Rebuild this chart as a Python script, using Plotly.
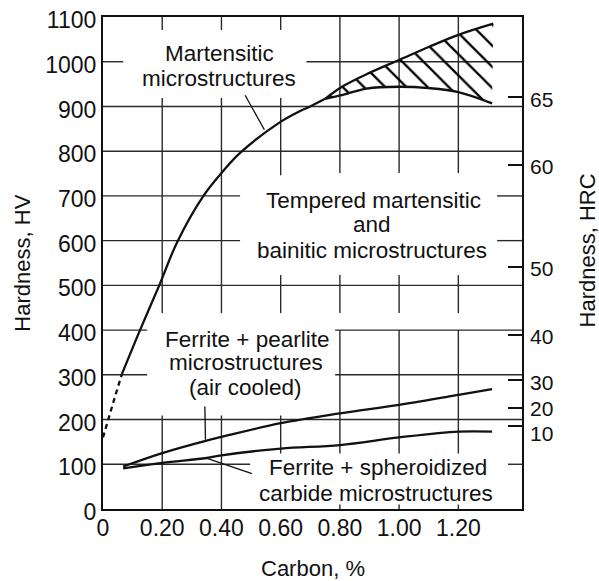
import plotly.graph_objects as go

# ---------------- data ----------------
CARBON_TICKS = [0.0, 0.2, 0.4, 0.6, 0.8, 1.0, 1.2]
CARBON_TICK_TEXT = ["0", "0.20", "0.40", "0.60", "0.80", "1.00", "1.20"]
HV_TICKS = [0, 100, 200, 300, 400, 500, 600, 700, 800, 900, 1000, 1100]
HRC_TICK_HV = [921, 768, 542, 390, 289, 226, 186]
HRC_LABEL_HV = [916, 766, 538, 386, 282, 224, 168]
HRC_TICK_TEXT = ["65", "60", "50", "40", "30", "20", "10"]

# Martensitic curve (dashed low-carbon part, then solid)
mart_dash_x = [0.0, 0.017, 0.04, 0.064]
mart_dash_hv = [160, 200, 250, 302]
mart_x = [0.064, 0.125, 0.19, 0.25, 0.338, 0.405, 0.463, 0.598, 0.666, 0.70, 0.75]
mart_hv = [302, 400, 500, 596, 699, 755, 796, 865, 890, 900, 917]
# Split band at high carbon (upper / lower limits)
upper_x = [0.75, 0.81, 0.9, 1.0, 1.1, 1.2, 1.318]
upper_hv = [917, 945, 975, 1004, 1033, 1060, 1085]
lower_x = [0.75, 0.81, 0.89, 1.0, 1.1, 1.2, 1.314]
lower_hv = [917, 926, 940, 944, 941, 932, 907]

# Ferrite + pearlite (air cooled)
pearl_x = [0.068, 0.2, 0.35, 0.4, 0.6, 0.8, 1.0, 1.2, 1.314]
pearl_hv = [95, 125, 153, 161, 192, 214, 233, 255, 268]
# Ferrite + spheroidized carbide
spher_x = [0.068, 0.2, 0.35, 0.4, 0.6, 0.8, 1.0, 1.2, 1.314]
spher_hv = [91, 103, 114, 120, 135, 143, 160, 173, 173]

# ---------------- layout decoration ----------------
X_MAX = 1.415
Y_MAX = 1100
FONT = "Liberation Sans, Arial, sans-serif"
INK = "#111111"

# partial grid lines: (hv, x0, x1) and (x, hv0, hv1)
GRID_H = [
    (1000, 0, 0.068), (1000, 0.687, X_MAX),
    (900, 0, X_MAX), (800, 0, X_MAX),
    (700, 0, 0.463), (700, 1.331, X_MAX),
    (600, 0, 0.463), (600, 1.331, X_MAX),
    (500, 0, X_MAX),
    (400, 0, 0.149), (400, 0.784, X_MAX),
    (300, 0, 0.149), (300, 0.784, X_MAX),
    (200, 0, X_MAX),
    (100, 0, 0.497), (100, 1.368, X_MAX),
]
GRID_V = [
    (0.2, 1071, 1100), (0.2, 438, 919), (0.2, 0, 209),
    (0.4, 1071, 1100), (0.4, 438, 919), (0.4, 0, 209),
    (0.6, 1071, 1100), (0.6, 746, 919), (0.6, 438, 523), (0.6, 124, 209),
    (0.8, 751, 1100), (0.8, 438, 523), (0.8, 124, 400), (0.8, 0, 10),
    (1.0, 751, 1100), (1.0, 438, 523), (1.0, 124, 400), (1.0, 0, 10),
    (1.2, 751, 1100), (1.2, 438, 523), (1.2, 124, 400), (1.2, 0, 10),
]

LABELS = [
    ("Martensitic", 0.392, 1018),
    ("microstructures", 0.393, 963),
    ("Tempered martensitic", 0.912, 690),
    ("and", 0.907, 635),
    ("bainitic microstructures", 0.910, 578),
    ("Ferrite + pearlite", 0.485, 380),
    ("microstructures", 0.483, 328),
    ("(air cooled)", 0.481, 272),
    ("Ferrite + spheroidized", 0.927, 93),
    ("carbide microstructures", 0.922, 35),
]
LEADERS = [
    ((0.48, 925), (0.545, 848)),
    ((0.344, 229), (0.346, 155)),
    ((0.344, 115), (0.503, 79)),
]

fig = go.Figure()

# grid
gx, gy = [], []
for hv, x0, x1 in GRID_H:
    gx += [x0, x1, None]
    gy += [hv, hv, None]
for xv, h0, h1 in GRID_V:
    gx += [xv, xv, None]
    gy += [h0, h1, None]
fig.add_trace(go.Scatter(x=gx, y=gy, mode="lines",
                         line=dict(color="#2a2a2a", width=1.4),
                         hoverinfo="skip", showlegend=False))

# leader lines
lx, ly = [], []
for (a, b) in LEADERS:
    lx += [a[0], b[0], None]
    ly += [a[1], b[1], None]
fig.add_trace(go.Scatter(x=lx, y=ly, mode="lines",
                         line=dict(color=INK, width=1.3),
                         hoverinfo="skip", showlegend=False))

curve = dict(color=INK, width=2.3, shape="spline", smoothing=1.0)

fig.add_trace(go.Scatter(x=mart_dash_x, y=mart_dash_hv, mode="lines",
                         line=dict(color=INK, width=2.3, dash="5px,4px"),
                         showlegend=False))
fig.add_trace(go.Scatter(x=mart_x, y=mart_hv, mode="lines", line=curve,
                         showlegend=False))
fig.add_trace(go.Scatter(x=lower_x, y=lower_hv, mode="lines", line=curve,
                         showlegend=False))
fig.add_trace(go.Scatter(x=upper_x, y=upper_hv, mode="lines", line=curve,
                         fill="tonexty", fillcolor="rgba(255,255,255,0)",
                         fillpattern=dict(shape="\\", fgcolor="#000000",
                                          fgopacity=1,
                                          bgcolor="rgba(255,255,255,0)",
                                          size=15, solidity=0.15),
                         showlegend=False))
fig.add_trace(go.Scatter(x=pearl_x, y=pearl_hv, mode="lines", line=curve,
                         showlegend=False))
fig.add_trace(go.Scatter(x=spher_x, y=spher_hv, mode="lines", line=curve,
                         showlegend=False))
# carriers for the HRC tick axis and HRC label axis
fig.add_trace(go.Scatter(x=[None], y=[None], yaxis="y2", showlegend=False,
                         hoverinfo="skip"))
fig.add_trace(go.Scatter(x=[None], y=[None], yaxis="y3", showlegend=False,
                         hoverinfo="skip"))

for text, xv, hv in LABELS:
    fig.add_annotation(x=xv, y=hv, text=text, showarrow=False,
                       xanchor="center", yanchor="middle",
                       font=dict(family=FONT, size=22.5, color=INK))

fig.add_annotation(xref="paper", yref="paper", x=-0.193, y=0.499,
                   xanchor="center", yanchor="middle",
                   text="Hardness, HV", textangle=-90, showarrow=False,
                   font=dict(family=FONT, size=22, color=INK))
fig.add_annotation(xref="paper", yref="paper", x=1.157, y=0.525,
                   xanchor="center", yanchor="middle",
                   text="Hardness, HRC", textangle=-90, showarrow=False,
                   font=dict(family=FONT, size=22, color=INK))
fig.add_annotation(xref="paper", yref="paper", x=0.5, y=-0.12,
                   xanchor="center", yanchor="middle",
                   text="Carbon, %", showarrow=False,
                   font=dict(family=FONT, size=22, color=INK))

fig.update_layout(
    width=599, height=581,
    margin=dict(l=103, r=77, t=17, b=72, autoexpand=False),
    paper_bgcolor="white", plot_bgcolor="white",
    font=dict(family=FONT, size=23, color=INK),
    xaxis=dict(range=[0, X_MAX], tickvals=CARBON_TICKS, ticktext=CARBON_TICK_TEXT,
               showgrid=False, zeroline=False, showline=True, mirror=True,
               linecolor=INK, linewidth=2.2, ticks="", ticklabelstandoff=-3,
               automargin=False,
               tickfont=dict(family=FONT, size=23, color=INK)),
    yaxis=dict(range=[0, Y_MAX], tickvals=HV_TICKS,
               showgrid=False, zeroline=False, showline=True, mirror=True,
               linecolor=INK, linewidth=2.2, ticks="", ticklabelstandoff=0,
               ticklabelshift=3,
               ticklabeloverflow="allow", automargin=False,
               tickfont=dict(family=FONT, size=23, color=INK)),
    yaxis2=dict(range=[0, Y_MAX], overlaying="y", side="right",
                tickvals=HRC_TICK_HV, showticklabels=False,
                showgrid=False, zeroline=False, showline=False,
                ticks="inside", ticklen=14, tickwidth=1.5, tickcolor=INK,
                automargin=False),
    yaxis3=dict(range=[0, Y_MAX], overlaying="y", side="right",
                tickvals=HRC_LABEL_HV, ticktext=HRC_TICK_TEXT,
                showgrid=False, zeroline=False, showline=False,
                ticks="", ticklabelstandoff=7, automargin=False,
                tickfont=dict(family=FONT, size=21, color=INK)),
)

# place the figure at the page's top-left corner (no default body margin)
fig.write_html(
    "out.html",
    config={"displayModeBar": False},
    post_script="document.body.style.margin='0';"
                "document.body.style.overflow='hidden';",
)
